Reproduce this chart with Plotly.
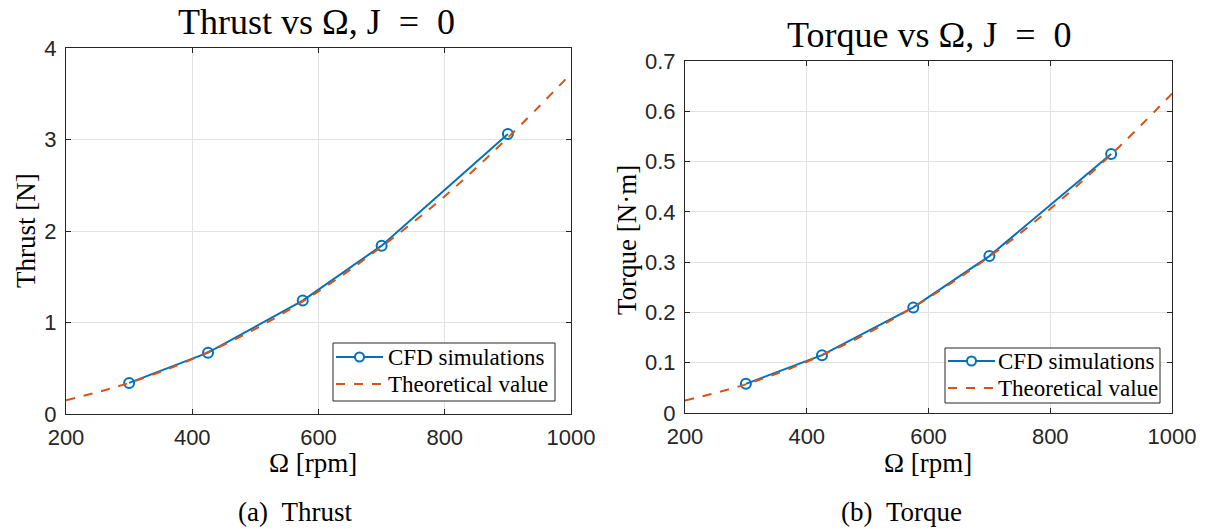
import plotly.graph_objects as go

# ---- data ----
omega_cfd = [300, 425, 575, 700, 900]
thrust_cfd = [0.34, 0.67, 1.24, 1.84, 3.06]
torque_cfd = [0.058, 0.115, 0.210, 0.312, 0.515]

omega_th = [200, 300, 400, 500, 600, 700, 800, 900, 1000]
thrust_th = [0.15, 0.34, 0.60, 0.93, 1.34, 1.83, 2.38, 3.02, 3.72]
torque_th = [0.025, 0.057, 0.102, 0.159, 0.229, 0.311, 0.406, 0.514, 0.635]

x_ticks = [200, 400, 600, 800, 1000]
thrust_ticks = [0, 1, 2, 3, 4]
torque_ticks = [0, 0.1, 0.2, 0.3, 0.4, 0.5, 0.6, 0.7]
torque_tick_text = ["0", "0.1", "0.2", "0.3", "0.4", "0.5", "0.6", "0.7"]
legend_names = ["CFD simulations", "Theoretical value"]

BLUE = "#0072BD"
ORANGE = "#D95319"
SERIF = "Liberation Serif"
SANS = "Liberation Sans"
NB = "\u00a0"

# page body has an 8px margin: figure drawn at (8, 8)
OFF = 8
W, H = 1206 - OFF, 529 - OFF
def fx(px):
    return (px - OFF) / W
def fy(py):
    return 1 - (py - OFF) / H

fig = go.Figure()

fig.add_trace(go.Scatter(x=omega_cfd, y=thrust_cfd, mode="lines+markers", name=legend_names[0],
                         line=dict(color=BLUE, width=2),
                         marker=dict(symbol="circle-open", size=10, color=BLUE, line=dict(width=2)),
                         xaxis="x", yaxis="y", showlegend=False))
fig.add_trace(go.Scatter(x=omega_th, y=thrust_th, mode="lines", name=legend_names[1],
                         line=dict(color=ORANGE, width=2, dash="dash", shape="spline"),
                         xaxis="x", yaxis="y", showlegend=False))
fig.add_trace(go.Scatter(x=omega_cfd, y=torque_cfd, mode="lines+markers", name=legend_names[0],
                         line=dict(color=BLUE, width=2),
                         marker=dict(symbol="circle-open", size=10, color=BLUE, line=dict(width=2)),
                         xaxis="x2", yaxis="y2", showlegend=False))
fig.add_trace(go.Scatter(x=omega_th, y=torque_th, mode="lines", name=legend_names[1],
                         line=dict(color=ORANGE, width=2, dash="dash", shape="spline"),
                         xaxis="x2", yaxis="y2", showlegend=False))

axis_common = dict(showline=True, linecolor="#262626", linewidth=1, mirror="ticks",
                   ticks="inside", ticklen=5, tickcolor="#262626",
                   showgrid=True, gridcolor="#E2E2E2", gridwidth=1, zeroline=False,
                   automargin=False, ticklabelstandoff=4,
                   tickfont=dict(family=SANS, size=22, color="#262626"))

def ann(text, x, y, size, angle=0, xanchor="center"):
    return dict(text=text, x=fx(x), y=fy(y), xref="paper", yref="paper", showarrow=False,
                xanchor=xanchor, yanchor="middle", textangle=angle,
                font=dict(family=SERIF, size=size, color="#000000"))

annotations = [
    ann(f"Thrust vs Ω, J{NB}{NB}={NB}{NB}0", 316, 22, 36),
    ann(f"Torque vs Ω, J{NB}{NB}={NB}{NB}0", 929, 35, 36),
    ann("Ω [rpm]", 313, 463, 27),
    ann("Ω [rpm]", 928, 463, 27),
    ann("Thrust [N]", 26, 231, 27, -90),
    ann("Torque [N·m]", 627, 240, 27, -90),
    ann(f"(a){NB}{NB}Thrust", 295, 512, 27),
    ann(f"(b){NB}{NB}Torque", 901, 512, 27),
]

shapes = []
def add_legend(x0, x1, y0, y1, row1, row2, sym_x0, sym_x1, text_x):
    shapes.append(dict(type="rect", xref="paper", yref="paper",
                       x0=fx(x0), x1=fx(x1), y0=fy(y1), y1=fy(y0),
                       fillcolor="white", line=dict(color="#262626", width=1), layer="above"))
    shapes.append(dict(type="line", xref="paper", yref="paper",
                       x0=fx(sym_x0), x1=fx(sym_x1), y0=fy(row1), y1=fy(row1),
                       line=dict(color=BLUE, width=2), layer="above"))
    cx = (sym_x0 + sym_x1) / 2
    shapes.append(dict(type="circle", xref="paper", yref="paper",
                       x0=fx(cx - 4.5), x1=fx(cx + 4.5), y0=fy(row1 + 4.5), y1=fy(row1 - 4.5),
                       fillcolor="white", line=dict(color=BLUE, width=2), layer="above"))
    shapes.append(dict(type="line", xref="paper", yref="paper",
                       x0=fx(sym_x0), x1=fx(sym_x1), y0=fy(row2), y1=fy(row2),
                       line=dict(color=ORANGE, width=2, dash="dash"), layer="above"))
    annotations.append(ann(legend_names[0], text_x, row1, 23, xanchor="left"))
    annotations.append(ann(legend_names[1], text_x, row2, 23, xanchor="left"))

add_legend(333, 555, 343, 401, 357, 384, 336, 383, 386)
add_legend(945, 1160, 348, 403, 361, 388, 948, 995, 996)

fig.update_layout(
    width=W, height=H, margin=dict(l=0, r=0, t=0, b=0),
    paper_bgcolor="white", plot_bgcolor="white", showlegend=False,
    xaxis=dict(domain=[fx(66), fx(571)], range=[200, 1000], tickvals=x_ticks, anchor="y", **axis_common),
    yaxis=dict(domain=[fy(414), fy(48)], range=[0, 4], tickvals=thrust_ticks, anchor="x", **axis_common),
    xaxis2=dict(domain=[fx(685), fx(1172)], range=[200, 1000], tickvals=x_ticks, anchor="y2", **axis_common),
    yaxis2=dict(domain=[fy(413), fy(61)], range=[0, 0.7], tickvals=torque_ticks, ticktext=torque_tick_text,
                anchor="x2", **axis_common),
    shapes=shapes,
    annotations=annotations,
)

fig.write_html("out.html")
